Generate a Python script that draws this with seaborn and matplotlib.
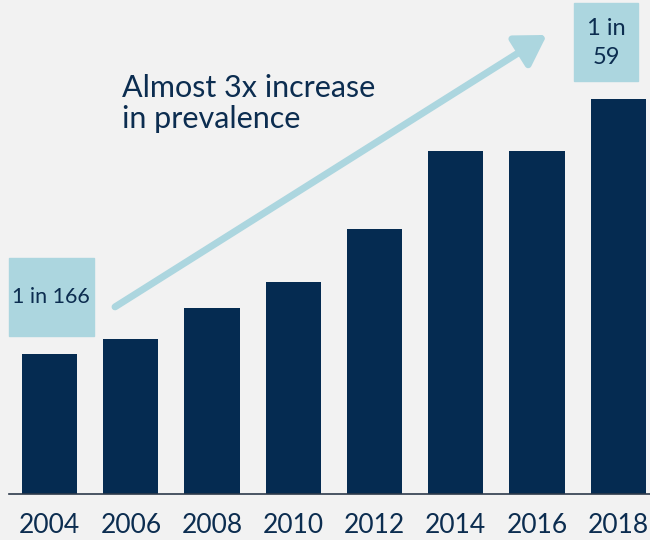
import matplotlib
matplotlib.use("Agg")
import matplotlib.pyplot as plt
import seaborn as sns
import pandas as pd
from matplotlib.patches import Rectangle, FancyArrowPatch

years = ["2004", "2006", "2008", "2010", "2012", "2014", "2016", "2018"]
one_in = [166, 150, 125, 110, 88, 68, 68, 59]
prevalence = [1000.0 / n for n in one_in]  # per 1,000 children

df = pd.DataFrame({"year": years, "prevalence": prevalence})

BG = "#f2f2f2"
NAVY = "#052b51"
LIGHT = "#acd6df"
TXT = "#0c2d50"

sns.set_theme(style="white")
plt.rcParams["font.family"] = ["Lato", "DejaVu Sans"]

fig = plt.figure(figsize=(6.5, 5.4), dpi=100, facecolor=BG)
ax = fig.add_axes([9 / 650, 46 / 540, 641 / 650, 494 / 540])
ax.set_facecolor(BG)

sns.barplot(data=df, x="year", y="prevalence", color=NAVY, width=0.68,
            saturation=1, linewidth=0, ax=ax)

ax.set_xlim(-0.5, 7.39)
ax.set_ylim(0, 21.2)
ax.set_xlabel("")
ax.set_ylabel("")
ax.set_yticks([])
for s in ["top", "right", "left"]:
    ax.spines[s].set_visible(False)
ax.spines["bottom"].set_color("#2d3a4a")
ax.spines["bottom"].set_linewidth(1.2)
ax.tick_params(axis="x", length=0, pad=14, labelsize=19, labelcolor=TXT)

# arrow
arr = FancyArrowPatch((0.805, 8.03), (6.12, 19.7), arrowstyle="-|>,head_length=18,head_width=11",
                      mutation_scale=1, color=LIGHT, lw=5, shrinkA=0, shrinkB=0)
ax.add_patch(arr)

ax.text(0.89, 16.75, "Almost 3x increase\nin prevalence", fontsize=22, color=TXT,
        ha="left", va="center", linespacing=1.12)

# label boxes
ax.add_patch(Rectangle((-0.5, 6.78), 1.047, 3.35, color=LIGHT, zorder=3, clip_on=False))
ax.text(0.02, 8.45, f"1 in {one_in[0]}", fontsize=15.5, color=TXT, ha="center",
        va="center", zorder=4)
ax.add_patch(Rectangle((6.458, 17.73), 0.79, 3.34, color=LIGHT, zorder=3, clip_on=False))
ax.text(6.852, 19.35, f"1 in\n{one_in[-1]}", fontsize=17, color=TXT, ha="center",
        va="center", zorder=4, linespacing=1.45)

fig.savefig("out.png", dpi=100, facecolor=BG)
